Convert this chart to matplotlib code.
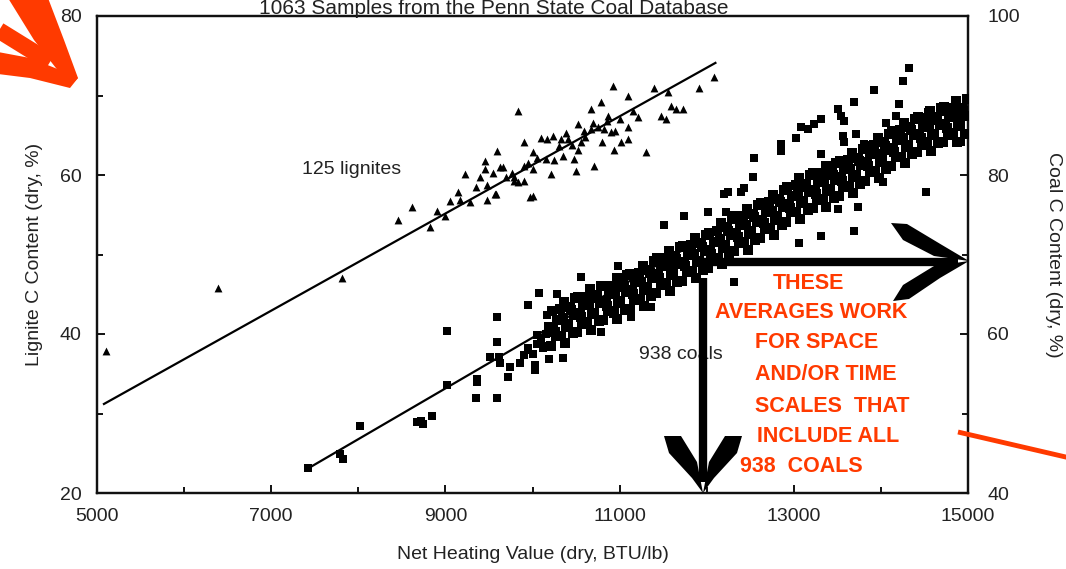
import matplotlib
matplotlib.use("Agg")
import matplotlib.pyplot as plt
from matplotlib.lines import Line2D
from matplotlib.path import Path
from matplotlib.patches import PathPatch

plt.rcParams['font.family'] = ['Liberation Sans', 'DejaVu Sans']

# ---------------- data ----------------
title = "1063 Samples from the Penn State Coal Database"
x_label = "Net Heating Value (dry, BTU/lb)"
y_left_label = "Lignite C Content (dry, %)"
y_right_label = "Coal C Content (dry, %)"
x_ticks = [5000, 7000, 9000, 11000, 13000, 15000]
y_left_ticks = [20, 40, 60, 80]
y_right_ticks = [40, 60, 80, 100]

lignite_x = [5103, 6391, 7816, 8460, 8621, 8828, 9000, 9057, 9172, 9230, 9287, 9460,
             9460, 9483, 9483, 9586, 9598, 9575, 9632, 9667, 9770, 9782, 9782, 9828,
             9839, 9897, 9897, 9897, 9977, 10000, 10000, 10011, 10057, 10092, 10172,
             10207, 10241, 10322, 10345, 10402, 10471, 10494, 10517, 10552, 10586,
             10667, 10667, 10701, 10747, 10782, 10816, 10862, 10897, 10920, 10931,
             11011, 11092, 11092, 11092, 11207, 11299, 11391, 11471, 11529, 11552,
             11586, 11644, 11724, 11908, 12080,
             9350, 9400, 9700, 9950, 10150, 10300, 10450, 10600, 10700, 10850, 10950,
             11000, 9150, 8900, 9550, 10250, 10380, 10520, 10800, 11150]
lignite_y = [37.9, 45.8, 47.0, 54.3, 56.0, 53.4, 54.8, 56.7, 56.9, 60.1, 56.6, 61.7,
             60.7, 56.9, 58.8, 57.6, 63.0, 57.6, 61.0, 61.0, 60.3, 59.2, 59.8, 59.1,
             68.0, 59.2, 64.2, 61.1, 57.2, 62.9, 57.3, 60.7, 62.2, 64.7, 64.5,
             60.1, 64.9, 64.5, 62.4, 64.5, 62.0, 60.5, 66.4, 64.1, 65.5,
             68.3, 65.8, 61.1, 66.1, 69.2, 65.8, 67.4, 65.4, 71.2, 63.2,
             64.1, 69.9, 66.1, 64.5, 67.3, 62.9, 71.0, 67.4, 67.0, 70.5,
             68.7, 68.3, 68.3, 71.0, 72.3,
             58.5, 59.8, 59.7, 61.5, 62.0, 63.6, 63.8, 64.8, 66.5, 66.8, 65.5,
             67.0, 57.8, 55.5, 60.2, 61.9, 65.3, 63.2, 64.2, 68.0]

# sparse coal points (lower range and outliers)
coal_sparse_x = [7425, 7790, 7830, 8023, 8678, 8747, 8851, 8720, 9023, 9023, 9356, 9598,
                 9368, 9368, 9598, 9598, 9517, 9610, 9632, 9747, 9724, 9862, 10034, 10034,
                 10184, 10345, 9943, 10057, 10126, 10069, 10287, 9954, 10172, 10287, 10552,
                 9950, 10050, 10100, 10150, 10000, 10120, 9900, 10180,
                 10977, 11356, 11126, 10782,
                 11506, 11736, 12011, 12218, 12195, 12241, 12391, 12425, 12529, 12540,
                 12851, 12851, 13023, 13080, 13161, 13230, 13310, 13310, 13506, 13540,
                 13575, 13563, 13575, 13690, 13713, 13805, 13920, 14057, 14172, 14207,
                 14253, 14322, 14540, 14690, 14885, 14920,
                 12310, 14517, 14023, 13690, 13310, 13057, 13506, 13736]
coal_sparse_y = [43.1, 44.9, 44.3, 48.4, 48.9, 48.7, 49.7, 49.0, 60.4, 53.6, 52.0, 52.0,
                 53.9, 54.3, 62.1, 59.0, 57.1, 57.1, 56.4, 55.9, 54.6, 56.4, 55.5, 56.1,
                 56.8, 57.0, 58.3, 59.9, 58.5, 65.2, 65.0, 63.7, 62.4, 61.8, 67.2,
                 58.0, 58.8, 59.5, 60.0, 57.5, 58.2, 57.3, 61.0,
                 68.5, 63.4, 62.2, 60.2,
                 73.7, 74.8, 75.3, 75.4, 77.6, 77.8, 77.8, 78.4, 79.7, 82.1,
                 83.9, 83.0, 84.7, 86.0, 85.8, 86.4, 87.0, 82.6, 88.3, 87.4,
                 86.8, 84.9, 84.1, 89.2, 85.1, 83.9, 90.7, 86.6, 87.4, 88.9,
                 91.8, 93.4, 87.9, 87.9, 87.0, 84.2,
                 66.5, 77.8, 79.1, 73.0, 72.3, 71.5, 75.7, 76.0]

# dense coal band
coal_band_x = [
    10215, 10270, 10240, 10280, 10225, 10255, 10330, 10385, 10350, 10320, 10365, 10375,
    10460, 10410, 10475, 10435, 10490, 10445, 10515, 10570, 10540, 10580, 10525, 10555,
    10630, 10685, 10650, 10620, 10665, 10675, 10760, 10710, 10775, 10735, 10790, 10745,
    10815, 10870, 10840, 10880, 10825, 10855, 10930, 10985, 10950, 10920, 10965, 10975,
    11060, 11010, 11075, 11035, 11090, 11045, 11115, 11170, 11140, 11180, 11125, 11155,
    11230, 11285, 11250, 11220, 11265, 11275, 11360, 11310, 11375, 11335, 11390, 11345,
    11415, 11470, 11440, 11480, 11425, 11455, 11530, 11585, 11550, 11520, 11565, 11575,
    11660, 11610, 11675, 11635, 11690, 11645, 11715, 11770, 11740, 11780, 11725, 11755,
    11830, 11885, 11850, 11820, 11865, 11875, 11960, 11910, 11975, 11935, 11990, 11945,
    12015, 12070, 12040, 12080, 12025, 12055, 12130, 12185, 12150, 12120, 12165, 12175,
    12260, 12210, 12275, 12235, 12290, 12245, 12315, 12370, 12340, 12380, 12325, 12355,
    12430, 12485, 12450, 12420, 12465, 12475, 12560, 12510, 12575, 12535, 12590, 12545,
    12615, 12670, 12640, 12680, 12625, 12655, 12730, 12785, 12750, 12720, 12765, 12775,
    12860, 12810, 12875, 12835, 12890, 12845, 12915, 12970, 12940, 12980, 12925, 12955,
    13030, 13085, 13050, 13020, 13065, 13075, 13160, 13110, 13175, 13135, 13190, 13145,
    13215, 13270, 13240, 13280, 13225, 13255, 13330, 13385, 13350, 13320, 13365, 13375,
    13460, 13410, 13475, 13435, 13490, 13445, 13515, 13570, 13540, 13580, 13525, 13555,
    13630, 13685, 13650, 13620, 13665, 13675, 13760, 13710, 13775, 13735, 13790, 13745,
    13815, 13870, 13840, 13880, 13825, 13855, 13930, 13985, 13950, 13920, 13965, 13975,
    14060, 14010, 14075, 14035, 14090, 14045, 14115, 14170, 14140, 14180, 14125, 14155,
    14230, 14285, 14250, 14220, 14265, 14275, 14360, 14310, 14375, 14335, 14390, 14345,
    14415, 14470, 14440, 14480, 14425, 14455, 14530, 14585, 14550, 14520, 14565, 14575,
    14660, 14610, 14675, 14635, 14690, 14645, 14715, 14770, 14740, 14780, 14725, 14755,
    14830, 14885, 14850, 14820, 14865, 14875, 14960, 14910, 14975, 14935, 14990, 14945]
coal_band_y = [
    58.5, 59.7, 60.8, 61.8, 62.9, 60.3, 59.7, 60.9, 62.0, 63.1, 64.0, 58.9,
    60.1, 61.2, 62.4, 63.4, 64.5, 63.0, 60.3, 61.5, 62.6, 63.6, 64.7, 62.1,
    61.3, 62.5, 63.6, 64.7, 65.6, 60.5, 61.6, 62.7, 63.9, 64.9, 66.0, 64.5,
    61.7, 62.9, 64.0, 65.0, 66.1, 63.5, 62.7, 63.9, 65.0, 66.1, 67.0, 61.9,
    63.0, 64.1, 65.3, 66.3, 67.4, 65.9, 63.2, 64.4, 65.5, 66.5, 67.6, 65.0,
    64.3, 65.5, 66.6, 67.7, 68.6, 63.5, 64.8, 65.9, 67.1, 68.1, 69.2, 67.7,
    65.2, 66.4, 67.5, 68.5, 69.6, 67.0, 66.2, 67.4, 68.5, 69.6, 70.5, 65.4,
    66.5, 67.6, 68.8, 69.8, 70.9, 69.4, 66.7, 67.9, 69.0, 70.0, 71.1, 68.5,
    67.8, 69.0, 70.1, 71.2, 72.1, 67.0, 68.1, 69.2, 70.4, 71.4, 72.5, 71.0,
    68.3, 69.5, 70.6, 71.6, 72.7, 70.1, 69.6, 70.8, 71.9, 73.0, 73.9, 68.8,
    70.1, 71.2, 72.4, 73.4, 74.5, 73.0, 70.4, 71.6, 72.7, 73.7, 74.8, 72.2,
    71.4, 72.6, 73.7, 74.8, 75.7, 70.6, 71.8, 72.9, 74.1, 75.1, 76.2, 74.7,
    72.1, 73.3, 74.4, 75.4, 76.5, 73.9, 73.2, 74.4, 75.5, 76.6, 77.5, 72.4,
    73.7, 74.8, 76.0, 77.0, 78.1, 76.6, 74.1, 75.3, 76.4, 77.4, 78.5, 75.9,
    75.3, 76.5, 77.6, 78.7, 79.6, 74.5, 75.6, 76.7, 77.9, 78.9, 80.0, 78.5,
    75.8, 77.0, 78.1, 79.1, 80.2, 77.6, 76.8, 78.0, 79.1, 80.2, 81.1, 76.0,
    77.1, 78.2, 79.4, 80.4, 81.5, 80.0, 77.4, 78.6, 79.7, 80.7, 81.8, 79.2,
    78.5, 79.7, 80.8, 81.9, 82.8, 77.7, 78.9, 80.0, 81.2, 82.2, 83.3, 81.8,
    79.3, 80.5, 81.6, 82.6, 83.7, 81.1, 80.4, 81.6, 82.7, 83.8, 84.7, 79.6,
    80.8, 81.9, 83.1, 84.1, 85.2, 83.7, 81.1, 82.3, 83.4, 84.4, 85.5, 82.9,
    82.3, 83.5, 84.6, 85.7, 86.6, 81.5, 82.7, 83.8, 85.0, 86.0, 87.1, 85.6,
    82.9, 84.1, 85.2, 86.2, 87.3, 84.7, 83.8, 85.0, 86.1, 87.2, 88.1, 83.0,
    84.0, 85.1, 86.3, 87.3, 88.4, 86.9, 84.1, 85.3, 86.4, 87.4, 88.5, 85.9,
    85.0, 86.2, 87.3, 88.4, 89.3, 84.2, 85.1, 86.2, 87.4, 88.4, 89.5, 88.0]

# regression lines (end points, data units)
lignite_fit_x = [5080, 12100]
lignite_fit_y = [31.2, 74.1]
coal_fit_x = [7425, 12500]
coal_fit_y = [43.1, 75.5]

lignite_label = "125 lignites"
coal_label = "938 coals"
note_lines = ["THESE", "AVERAGES WORK", "FOR SPACE", "AND/OR TIME",
              "SCALES  THAT", "INCLUDE ALL", "938  COALS"]

# ---------------- figure ----------------
W, H = 1066, 569
fig = plt.figure(figsize=(W / 100, H / 100), dpi=100)
fig.patch.set_facecolor('white')


def P(px, py):
    return (px / W, 1 - py / H)


ax = fig.add_axes([97 / W, 1 - 493 / H, (968 - 97) / W, (493 - 16) / H])
ax2 = ax.twinx()

tick_col = '#222222'
ax.set_xlim(5000, 15000)
ax.set_ylim(20, 80)
ax2.set_ylim(40, 100)
ax.set_xticks(x_ticks)
ax.set_xticks(range(6000, 15000, 2000), minor=True)
ax.set_yticks(y_left_ticks)
ax.set_yticks([30, 50, 70], minor=True)
ax2.set_yticks(y_right_ticks)
ax2.set_yticks([50, 70, 90], minor=True)

for a in (ax, ax2):
    for s in a.spines.values():
        s.set_linewidth(1.6)
        s.set_color('#111111')
ax.tick_params(axis='both', which='major', direction='in', length=6, width=1.4,
               labelsize=14, pad=11, colors='#111111', labelcolor=tick_col)
ax.tick_params(axis='both', which='minor', direction='in', length=4.5, width=1.4,
               colors='#111111')
ax.tick_params(axis='y', right=False)
ax.tick_params(axis='x', top=False)
ax2.tick_params(axis='y', which='major', direction='in', length=6, width=1.4,
                labelsize=14, pad=14, colors='#111111', labelcolor=tick_col)
ax2.tick_params(axis='y', which='minor', direction='in', length=4.5, width=1.4,
                colors='#111111')

ax.set_xlabel(x_label, fontsize=14, color=tick_col, labelpad=15)
ax.set_ylabel(y_left_label, fontsize=14, color=tick_col, labelpad=12)
ax2.set_ylabel(y_right_label, fontsize=14, color=tick_col, rotation=-90, labelpad=30)

# lignites on left axis
ax.scatter(lignite_x, lignite_y, marker='^', s=32, color='black', linewidths=0, zorder=3)
ax.plot(lignite_fit_x, lignite_fit_y, color='black', lw=1.6, zorder=2)

# coals on right axis
ax2.plot(coal_fit_x, coal_fit_y, color='black', lw=1.6, zorder=2)
ax2.scatter(coal_sparse_x, coal_sparse_y, marker='s', s=30, color='black', linewidths=0, zorder=3)
ax2.scatter(coal_band_x, coal_band_y, marker='s', s=44, color='black', linewidths=0, zorder=3)

ax.text(7920, 60.7, lignite_label, fontsize=14, color=tick_col, ha='center', va='center')
ax2.text(11700, 57.4, coal_label, fontsize=14, color=tick_col, ha='center', va='center',
         zorder=4)

# title, squeezed into the strip above the plot
fig.text(*P(494, 14), title, fontsize=15, color=tick_col, ha='center', va='baseline')

# ---------------- black annotation arrows ----------------
tf = fig.transFigure


def fline(pts, color, lw, z=10, cap='butt'):
    xs = [P(*p)[0] for p in pts]
    ys = [P(*p)[1] for p in pts]
    fig.add_artist(Line2D(xs, ys, transform=tf, color=color, lw=lw,
                          solid_capstyle=cap, solid_joinstyle='miter', zorder=z))


def fpoly(pts, color, z=10):
    verts = [P(*p) for p in pts] + [P(*pts[0])]
    codes = [Path.MOVETO] + [Path.LINETO] * (len(pts) - 1) + [Path.CLOSEPOLY]
    fig.add_artist(PathPatch(Path(verts, codes), transform=tf, facecolor=color,
                             edgecolor='none', zorder=z))


# horizontal arrow
fline([(700, 262), (958, 262)], 'black', 6)
fpoly([(891, 223), (907, 224), (942, 245), (969, 261), (934, 256), (903, 240)], 'black')
fpoly([(893, 301), (909, 299), (940, 278), (969, 261), (934, 266), (903, 285)], 'black')
# vertical arrow
fline([(703, 278), (703, 482)], 'black', 6)
fpoly([(664, 436), (681, 436), (697, 462), (703, 493), (692, 478), (669, 453)], 'black')
fpoly([(742, 436), (725, 436), (709, 462), (703, 493), (714, 478), (737, 453)], 'black')

# ---------------- red annotations ----------------
red = '#ff3a00'
note_pos = [(773, 283), (715, 313), (755, 343), (755, 375), (755, 406), (757, 437), (740, 467)]
for txt, (px, py) in zip(note_lines, note_pos):
    fig.text(*P(px, py), txt, fontsize=15.5, fontweight='bold', color=red,
             ha='left', va='center', zorder=11)

# red arrow top-left
fpoly([(8, -2), (48, -2), (64, 40), (78, 78), (70, 86), (34, 40)], red)
fpoly([(-2, 52), (30, 58), (60, 70), (78, 78), (70, 88), (30, 78), (-2, 74)], red)
fline([(-5, 28), (50, 62)], red, 12)
# red line bottom-right
fline([(958, 432), (1070, 458)], red, 3.5)

fig.savefig('out.png', dpi=100, facecolor='white')
